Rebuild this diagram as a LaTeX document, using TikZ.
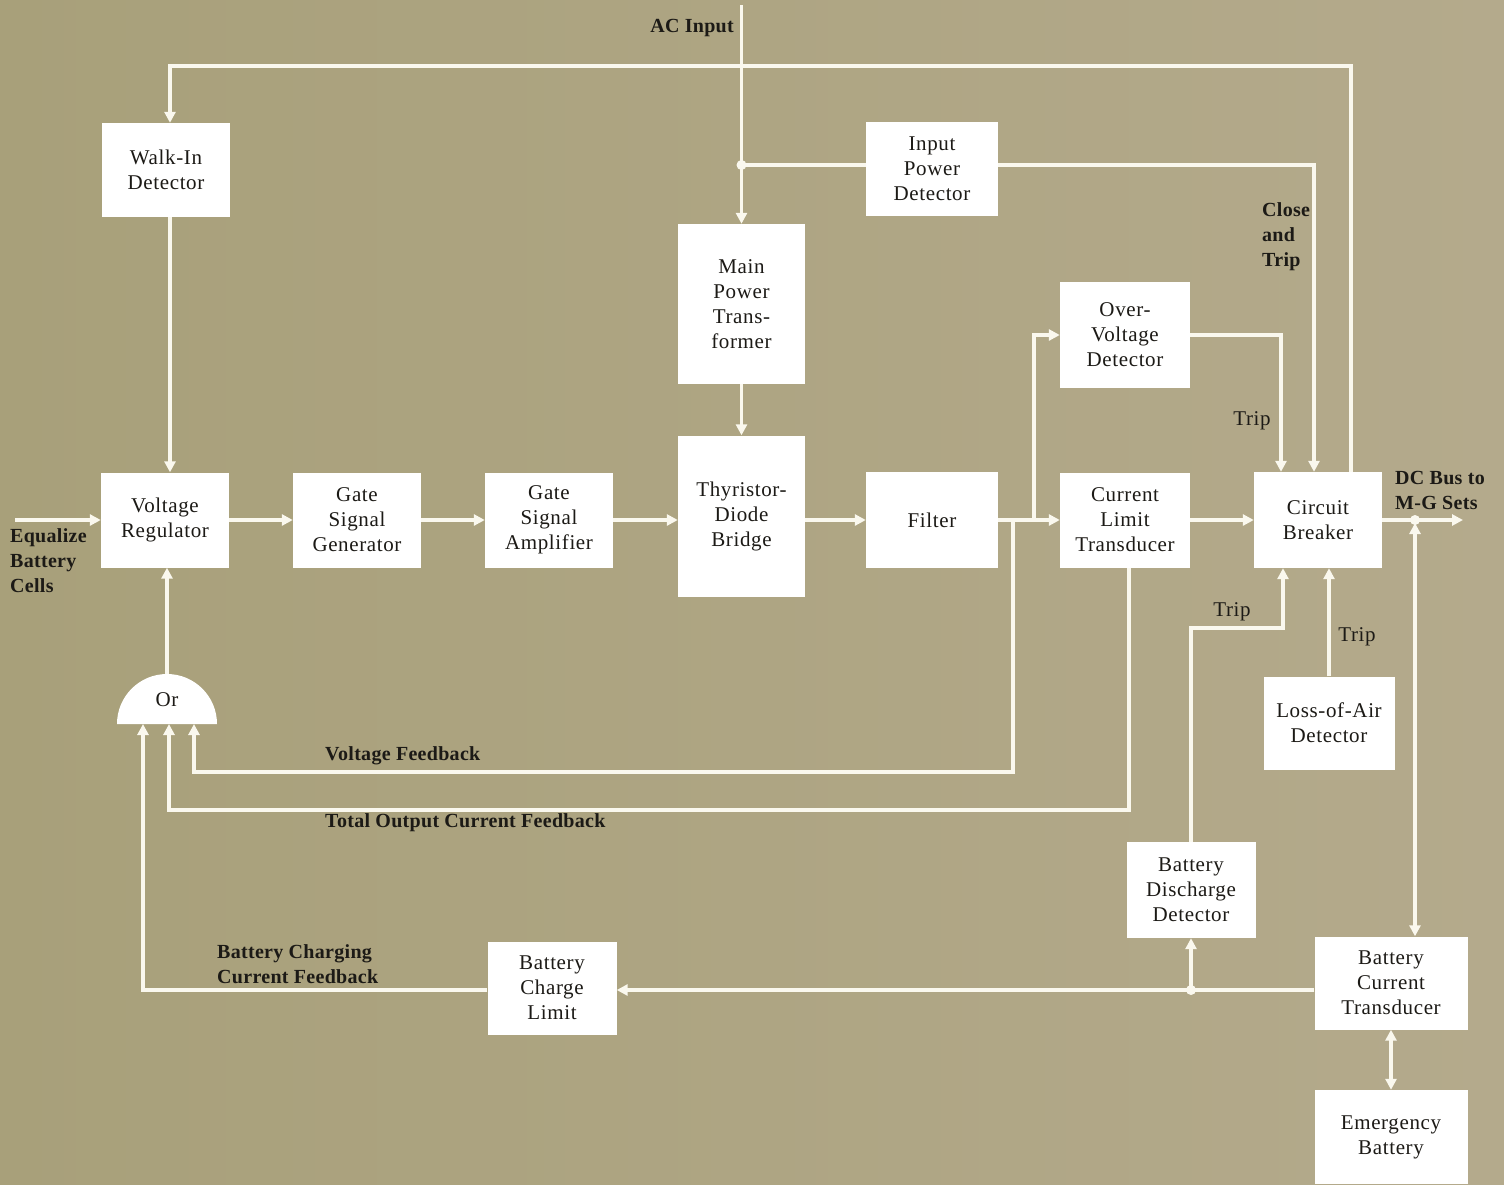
\documentclass[tikz,border=0pt]{standalone}
\usepackage{fontspec}
\setmainfont{Liberation Serif}
\newfontfamily\boxfont[LetterSpace=3]{Liberation Serif}
\newfontfamily\labfont[LetterSpace=1.5]{Liberation Serif}
\usetikzlibrary{arrows.meta}
\definecolor{bgl}{RGB}{168,160,122}
\definecolor{bgr}{RGB}{180,170,140}
\definecolor{ln}{RGB}{250,248,238}
\definecolor{tx}{RGB}{28,26,22}
\begin{document}
\begin{tikzpicture}[x=1pt,y=-1pt,
  box/.style={fill=white, text=tx, align=center, inner sep=0pt, font=\boxfont\fontsize{21}{25}\selectfont},
  wire/.style={draw=ln, line width=3.2pt},
  arr/.style={wire, -{Triangle[length=11pt,width=11pt]}},
  arrboth/.style={wire, {Triangle[length=11pt,width=11pt]}-{Triangle[length=11pt,width=11pt]}},
  lab/.style={text=tx, inner sep=0pt, align=left, font=\labfont\fontsize{20}{25}\selectfont\bfseries},
  tlab/.style={text=tx, inner sep=0pt, font=\boxfont\fontsize{21}{25}\selectfont},
  dot/.style={fill=ln}]
\useasboundingbox (0,0) rectangle (1504,1184);
\shade[left color=bgl, right color=bgr] (0,0) rectangle (1504,1184);

% boxes
\node[box, minimum width=128pt, minimum height=94pt] (walk) at (166,170) {Walk-In\\Detector};
\node[box, minimum width=128pt, minimum height=95pt] (vr) at (165,520) {Voltage\\Regulator};
\node[box, minimum width=128pt, minimum height=95pt] (gsg) at (357,520) {Gate\\Signal\\Generator};
\node[box, minimum width=128pt, minimum height=95pt] (gsa) at (549,520) {Gate\\Signal\\Amplifier};
\node[box, minimum width=127pt, minimum height=161pt] (tdb) at (741.5,516) {Thyristor-\\Diode\\Bridge};
\node[box, minimum width=127pt, minimum height=160pt] (mpt) at (741.5,304) {Main\\Power\\Trans-\\former};
\node[box, minimum width=132pt, minimum height=94pt] (ipd) at (932,169) {Input\\Power\\Detector};
\node[box, minimum width=132pt, minimum height=96pt] (filt) at (932,520) {Filter};
\node[box, minimum width=130pt, minimum height=106pt] (ovd) at (1125,335) {Over-\\Voltage\\Detector};
\node[box, minimum width=130pt, minimum height=95pt] (clt) at (1125,520) {Current\\Limit\\Transducer};
\node[box, minimum width=128pt, minimum height=96pt] (cb) at (1318,520) {Circuit\\Breaker};
\node[box, minimum width=131pt, minimum height=93pt] (loa) at (1329,723) {Loss-of-Air\\Detector};
\node[box, minimum width=129pt, minimum height=96pt] (bdd) at (1191,890) {Battery\\Discharge\\Detector};
\node[box, minimum width=129pt, minimum height=93pt] (bcl) at (552,988) {Battery\\Charge\\Limit};
\node[box, minimum width=153pt, minimum height=93pt] (bct) at (1391,983) {Battery\\Current\\Transducer};
\node[box, minimum width=153pt, minimum height=94pt] (eb) at (1391,1137) {Emergency\\Battery};

% Or gate
\fill[white] (117,724) arc[start angle=180, end angle=0, radius=50pt] -- cycle;
\node[tlab] (or) at (167,700) {Or};

% coordinates
\coordinate (acin) at (741.5,5);
\coordinate (j1) at (741.5,165);
\coordinate (ct) at (1314,165);
\coordinate (tl) at (170,66);
\coordinate (tr) at (1351,66);
\coordinate (eq) at (15,520);
\coordinate (b1) at (1034,520);
\coordinate (ot) at (1281,335);
\coordinate (jdc) at (1415,520);
\coordinate (dc) at (1463,520);
\coordinate (jb) at (1191,990);
\coordinate (bt) at (1283,628);
\coordinate (vf) at (1013,772);
\coordinate (tf) at (1129,810);
\coordinate (o1) at (143,724);
\coordinate (o2) at (169,724);
\coordinate (o3) at (194,724);
\coordinate (ortop) at (167,674);

% connectors
\draw[arr] (acin) -- (mpt.north);
\draw[wire] (j1) -- (j1 -| ipd.west);
\draw[arr] (j1 -| ipd.east) -| (ct |- cb.north);
\draw[arr] (tr |- cb.north) -- (tr) -- (tl) -- (tl |- walk.north);
\draw[arr] (tl |- walk.south) -- (tl |- vr.north);
\draw[arr] (mpt.south) -- (tdb.north);
\draw[arr] (eq) -- (eq -| vr.west);
\draw[arr] (vr.east) -- (gsg.west);
\draw[arr] (gsg.east) -- (gsa.west);
\draw[arr] (gsa.east) -- (gsa.east -| tdb.west);
\draw[arr] (filt.west -| tdb.east) -- (filt.west);
\draw[arr] (filt.east) -- (clt.west);
\draw[arr] (b1) |- (ovd.west);
\draw[arr] (ovd.east) -| (ot |- cb.north);
\draw[arr] (clt.east) -- (cb.west);
\draw[arr] (cb.east) -- (dc);
\draw[arrboth] ([yshift=-3pt]jdc) -- (jdc |- bct.north);
\draw[arrboth] (bct.south) -- (eb.north);
\draw[arr] (jb -| bct.west) -- (jb -| bcl.east);
\draw[arr] (jb) -- (bdd.south);
\draw[arr] (bdd.north) |- (bt) -- (bt |- cb.south);
\draw[arr] (loa.north) -- (loa.north |- cb.south);
\draw[arr] (vf |- clt.west) -- (vf) -| (o3);
\draw[arr] (tf |- clt.south) -- (tf) -| (o2);
\draw[arr] (jb -| bcl.west) -| (o1);
\draw[arr] (ortop) -- (ortop |- vr.south);

\fill[dot] (j1) circle (5pt);
\fill[dot] (jdc) circle (5pt);
\fill[dot] (jb) circle (5pt);

% labels
\node[lab, anchor=east] (acl) at (734,28) {AC Input};
\node[lab, anchor=west] (eql) at (10,561) {Equalize\\Battery\\Cells};
\node[lab, anchor=west] (ctl) at (1262,237) {Close\\and\\Trip};
\node[tlab] (t1) at (1252,421) {Trip};
\node[tlab] (t2) at (1232,612) {Trip};
\node[tlab] (t3) at (1357,637) {Trip};
\node[lab, anchor=west] (dcl) at (1395,490) {DC Bus to\\M-G Sets};
\node[lab, anchor=west] (vfl) at (325,756) {Voltage Feedback};
\node[lab, anchor=west] (tfl) at (325,823) {Total Output Current Feedback};
\node[lab, anchor=west] (bcfl) at (217,964) {Battery Charging\\Current Feedback};
\end{tikzpicture}
\end{document}
